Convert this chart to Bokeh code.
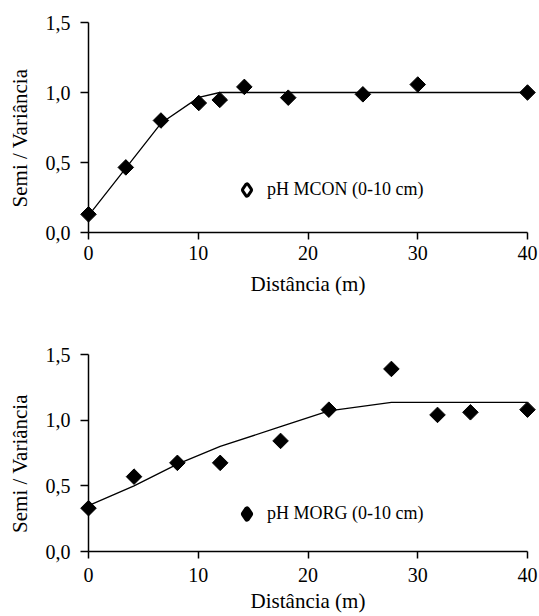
from bokeh.plotting import figure
from bokeh.layouts import column
from bokeh.models import (Range1d, FixedTicker, CustomJSTickFormatter, Legend,
                          LegendItem, ColumnDataSource)
from bokeh.embed import file_html
from bokeh.resources import INLINE
import numpy as np

# ---- data ----
dist_mcon = [0, 3.4, 6.6, 10.05, 11.96, 14.2, 18.2, 25.0, 30.0, 40.0]
semi_mcon = [0.13, 0.465, 0.80, 0.925, 0.947, 1.04, 0.963, 0.987, 1.057, 1.0]
fit_dist_mcon = [0, 3.4, 6.6, 10.05, 11.96, 40.0]
fit_mcon = [0.12, 0.46, 0.78, 0.965, 1.0, 1.0]

dist_morg = [0, 4.15, 8.1, 12.0, 17.5, 21.9, 27.6, 31.8, 34.8, 40.0]
semi_morg = [0.33, 0.57, 0.675, 0.675, 0.842, 1.08, 1.39, 1.04, 1.06, 1.08]
fit_dist_morg = [0, 4.15, 8.1, 12.0, 17.5, 21.9, 27.6, 40.0]
fit_morg = [0.35, 0.50, 0.665, 0.80, 0.95, 1.07, 1.135, 1.135]

x_ticks = [0, 10, 20, 30, 40]
y_ticks = [0, 0.5, 1.0, 1.5]
labels = ["pH MCON (0-10 cm)", "pH MORG (0-10 cm)"]
x_title = "Distância (m)"
y_title = "Semi / Variância"

FONT = "Liberation Serif"
NBSP = "\u00a0"


def make_fig(dist, semi, fdist, fval, label, height, top, bottom,
             tick_standoff, label_standoff, legend_xy, hollow):
    p = figure(width=539, height=height, output_backend="svg",
               toolbar_location=None,
               x_range=Range1d(0, 40), y_range=Range1d(0, 1.5),
               min_border_left=88, min_border_right=12,
               min_border_top=top, min_border_bottom=bottom)
    # off-screen range used only to feed the legend key glyphs
    p.extra_y_ranges = {"key": Range1d(1000, 1001)}
    p.grid.visible = False
    p.outline_line_color = None
    p.background_fill_color = "white"
    p.border_fill_color = "white"

    p.xaxis.ticker = FixedTicker(ticks=x_ticks)
    p.yaxis.ticker = FixedTicker(ticks=y_ticks)
    p.yaxis.formatter = CustomJSTickFormatter(
        code="return tick.toFixed(1).replace('.', ',')")
    p.xaxis.formatter = CustomJSTickFormatter(code="return tick.toFixed(0)")
    for ax in (p.xaxis[0], p.yaxis[0]):
        ax.axis_line_color = "black"
        ax.axis_line_width = 1.5
        ax.major_tick_line_color = "black"
        ax.major_tick_line_width = 1.5
        ax.major_tick_in = 0
        ax.minor_tick_line_color = None
        ax.major_label_text_font = FONT
        ax.major_label_text_font_size = "20px"
        ax.major_label_text_color = "black"
        ax.axis_label_text_font = FONT
        ax.axis_label_text_font_size = "21px"
        ax.axis_label_text_font_style = "normal"
        ax.axis_label_text_color = "black"
    p.xaxis.major_tick_out = 7
    p.yaxis.major_tick_out = 8
    p.xaxis.major_label_standoff = tick_standoff
    p.yaxis.major_label_standoff = 10
    p.xaxis.axis_label_standoff = label_standoff
    p.yaxis.axis_label_standoff = 11
    p.xaxis.axis_label = x_title
    p.yaxis.axis_label = y_title + NBSP * 4

    src = ColumnDataSource(data=dict(x=dist, y=semi))
    p.line(fdist, fval, line_color="black", line_width=1.3)
    p.scatter("x", "y", source=src, marker="square", size=11,
              angle=np.pi / 4, fill_color="black", line_color="black",
              level="overlay")

    # legend key glyphs (their points fall on the off-screen range)
    k1 = p.scatter("x", "y", source=src, y_range_name="key",
                   marker="diamond", fill_color="black", line_color="black",
                   line_width=6, line_join="round")
    rens = [k1]
    if hollow:
        k2 = p.scatter("x", "y", source=src, y_range_name="key",
                       marker="diamond", fill_color="white", line_color=None)
        rens.append(k2)
    leg = Legend(items=[LegendItem(label=label, renderers=rens, index=0)],
                 location=legend_xy, padding=0, margin=0, spacing=0,
                 glyph_width=23, glyph_height=23, label_standoff=9,
                 label_text_font=FONT, label_text_font_size="18px",
                 label_text_color="black",
                 border_line_color=None, background_fill_alpha=0)
    p.add_layout(leg, "center")
    return p


p1 = make_fig(dist_mcon, semi_mcon, fit_dist_mcon, fit_mcon, labels[0],
              300, 22, 68, 6, 9, (147, 31), True)
p2 = make_fig(dist_morg, semi_morg, fit_dist_morg, fit_morg, labels[1],
              316, 54, 65, 9, 4, (147, 26), False)

layout = column(p1, p2, spacing=0)
open("out.html", "w").write(file_html(layout, INLINE))
